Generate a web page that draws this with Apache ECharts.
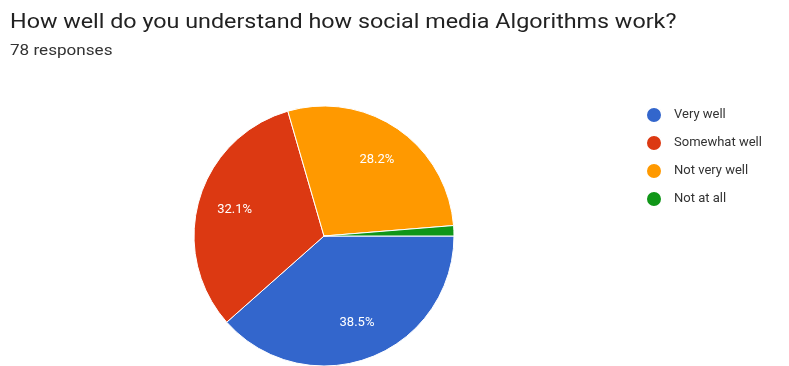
<!DOCTYPE html>
<html>
<head>
<meta charset="utf-8">
<script src="https://cdn.jsdelivr.net/npm/echarts@6/dist/echarts.min.js"></script>
<style>
  html, body { margin: 0; padding: 0; background: #fff; }
  #chart { width: 789px; height: 366px; }
</style>
</head>
<body>
<div id="chart"></div>
<script>
// Survey answers and response counts (78 responses in total)
const answers = ['Very well', 'Somewhat well', 'Not very well', 'Not at all'];
const counts = [30, 25, 22, 1];
const sliceColors = ['#3366CC', '#DC3912', '#FF9900', '#109618'];
const questionText = 'How well do you understand how social media Algorithms work?';

const pieData = answers.map((name, i) => ({ name: name, value: counts[i] }));
const total = counts.reduce((a, b) => a + b, 0);

const chart = echarts.init(document.getElementById('chart'), null, { renderer: 'canvas' });

const centre = [324, 236];

chart.setOption({
  animation: false,
  color: sliceColors,
  // question heading and response count, set in slightly widened type
  graphic: [
    {
      type: 'text',
      x: 10, y: 12,
      scaleX: 1.11,
      style: {
        text: questionText,
        font: '21px Roboto',
        fill: '#222',
        verticalAlign: 'top'
      }
    },
    {
      type: 'text',
      x: 10, y: 44,
      scaleX: 1.14,
      style: {
        text: total + ' responses',
        font: '15px Roboto',
        fill: '#333',
        verticalAlign: 'top'
      }
    }
  ],
  legend: {
    orient: 'vertical',
    left: 645, top: 106,
    padding: 0,
    icon: 'circle',
    itemWidth: 16, itemHeight: 16,
    itemGap: 10,
    data: answers,
    textStyle: { fontFamily: 'Roboto', fontSize: 13, color: '#333', padding: [0, 0, 0, 7] }
  },
  series: [
    {
      // the pie itself
      type: 'pie',
      center: centre,
      radius: 130,
      startAngle: 0,
      clockwise: true,
      data: pieData,
      label: { show: false },
      labelLine: { show: false },
      itemStyle: { borderColor: '#fff', borderWidth: 1 },
      emphasis: { disabled: true }
    },
    {
      // percentage labels, placed further out than the pie's own midpoint
      type: 'pie',
      center: centre,
      radius: [50, 130],
      startAngle: 0,
      clockwise: true,
      silent: true,
      data: pieData,
      minShowLabelAngle: 10,
      itemStyle: { color: 'rgba(0,0,0,0)' },
      label: {
        show: true,
        position: 'inside',
        formatter: p => (p.value / total * 100).toFixed(1) + '%',
        fontFamily: 'Roboto',
        fontSize: 13,
        color: '#fff'
      },
      labelLine: { show: false },
      emphasis: { disabled: true }
    }
  ]
});
</script>
</body>
</html>
